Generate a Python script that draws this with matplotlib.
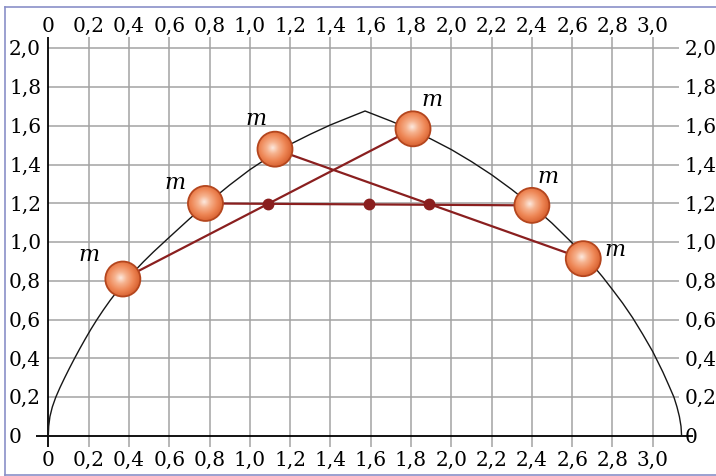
import numpy as np
import matplotlib
matplotlib.use("Agg")
import matplotlib.pyplot as plt
from matplotlib.patches import Ellipse
from matplotlib.lines import Line2D
from matplotlib.colors import LinearSegmentedColormap

# ---- data -------------------------------------------------------------
x_ticks = [0, 0.2, 0.4, 0.6, 0.8, 1.0, 1.2, 1.4, 1.6, 1.8, 2.0, 2.2, 2.4, 2.6, 2.8, 3.0]
x_tick_labels = ["0", "0,2", "0,4", "0,6", "0,8", "1,0", "1,2", "1,4", "1,6", "1,8",
                 "2,0", "2,2", "2,4", "2,6", "2,8", "3,0"]
y_ticks = [0, 0.2, 0.4, 0.6, 0.8, 1.0, 1.2, 1.4, 1.6, 1.8, 2.0]
y_tick_labels = ["0", "0,2", "0,4", "0,6", "0,8", "1,0", "1,2", "1,4", "1,6", "1,8", "2,0"]

# boundary curve of the region the masses move in (rising branch, peak, falling branch)
curve_x = [0.0, 0.002, 0.008, 0.02, 0.037, 0.058, 0.081, 0.105, 0.13, 0.156,
           0.183, 0.211, 0.241, 0.273, 0.307, 0.344, 0.384, 0.427, 0.473, 0.522,
           0.574, 0.6, 0.7, 0.8, 0.9, 1.0, 1.1, 1.2, 1.3, 1.4, 1.5,
           1.572,
           1.7, 1.8, 1.9, 2.0, 2.1, 2.2, 2.3, 2.4, 2.5, 2.6, 2.7, 2.75, 2.8, 2.85,
           2.9, 2.95, 3.0, 3.05, 3.08, 3.105, 3.12, 3.132, 3.14, 3.143]
curve_y = [0.0, 0.05, 0.1, 0.15, 0.2, 0.25, 0.3, 0.35, 0.4, 0.45,
           0.5, 0.55, 0.6, 0.65, 0.7, 0.75, 0.8, 0.85, 0.9, 0.95,
           1.0, 1.025, 1.12, 1.21, 1.295, 1.374, 1.443, 1.505, 1.557, 1.605, 1.647,
           1.677,
           1.625, 1.582, 1.532, 1.478, 1.416, 1.348, 1.272, 1.19, 1.098, 0.996, 0.884, 0.822, 0.755, 0.686,
           0.61, 0.525, 0.435, 0.33, 0.26, 0.2, 0.15, 0.1, 0.05, 0.0]

# positions of the six equal masses m
mass_x = [0.37, 0.78, 1.125, 1.81, 2.40, 2.655]
mass_y = [0.81, 1.20, 1.48, 1.585, 1.19, 0.915]
# pairs of masses joined by a rod (indices into the mass arrays)
pairs = [(0, 3), (1, 4), (2, 5)]
mass_label = "m"

# ---- figure / pixel-aligned data frame ---------------------------------
W, H = 716, 476
fig = plt.figure(figsize=(W / 100, H / 100), dpi=100)
ax = fig.add_axes([0, 0, 1, 1])
ax.axis("off")

x0px, xs = 48.3, 201.5      # pixel column of x=0, pixels per unit
y0px, ys = 436.0, 193.8     # pixel row of y=0, pixels per unit
xlim = (-x0px / xs, (W - x0px) / xs)
ylim = ((y0px - H) / ys, y0px / ys)

serif = "DejaVu Serif"
grid_col = "#a3a3a3"
rod_col = "#8a1f1f"

# grid with short overhangs serving as ticks
y_bot = -11 / ys
y_top = (y0px - 37) / ys
x_right = (679 - x0px) / xs
for x in x_ticks[1:]:
    ax.plot([x, x], [y_bot, y_top], color=grid_col, lw=1.1, zorder=1,
            solid_capstyle="butt")
for y in y_ticks[1:]:
    ax.plot([0, x_right], [y, y], color=grid_col, lw=1.1, zorder=1,
            solid_capstyle="butt")

# axes lines
ax.plot([(36 - x0px) / xs, (692.7 - x0px) / xs], [0, 0], color="black", lw=1.3,
        zorder=2, solid_capstyle="butt")
ax.plot([0, 0], [y_bot, y_top], color="black", lw=1.3, zorder=2,
        solid_capstyle="butt")

# tick labels on all four sides
fs = 14.5
for x, lab in zip(x_ticks, x_tick_labels):
    ax.text(x, (y0px - 31.7) / ys, lab, ha="center", va="baseline",
            fontsize=fs, family=serif, zorder=2)
    ax.text(x, (y0px - 466) / ys, lab, ha="center", va="baseline",
            fontsize=fs, family=serif, zorder=2)
for y, lab in zip(y_ticks, y_tick_labels):
    ax.text((9 - x0px) / xs, y - 7.0 / ys, lab, ha="left", va="baseline",
            fontsize=fs, family=serif, zorder=2)
    ax.text((684.5 - x0px) / xs, y - 7.0 / ys, lab, ha="left", va="baseline",
            fontsize=fs, family=serif, zorder=2)

# boundary curve
ax.plot(curve_x, curve_y, color="#161616", lw=1.0, zorder=3,
        solid_joinstyle="round")

# rods and their midpoints (centres of mass of each pair)
for i, j in pairs:
    ax.plot([mass_x[i], mass_x[j]], [mass_y[i], mass_y[j]], color=rod_col,
            lw=1.6, zorder=4, solid_capstyle="butt")
    ax.plot((mass_x[i] + mass_x[j]) / 2, (mass_y[i] + mass_y[j]) / 2, "o",
            ms=7.5, color=rod_col, mec=rod_col, zorder=5)

# shaded spheres for the masses
R = 17.5
rx, ry = R / xs, R / ys
ball_cmap = LinearSegmentedColormap.from_list(
    "ball", [(0.0, "#fce9df"), (0.3, "#f6b28e"), (0.65, "#ee8655"),
             (1.0, "#d65f2e")])
n = 121
u = np.linspace(-1, 1, n)
U, V = np.meshgrid(u, u)
hx, hy = -0.1, 0.1
dist = np.hypot(U - hx, V - hy) / (1 + np.hypot(hx, hy))
shade = ball_cmap(np.clip(dist, 0, 1))

for cx, cy in zip(mass_x, mass_y):
    clip = Ellipse((cx, cy), 2 * rx, 2 * ry, transform=ax.transData,
                   fc="none", ec="none")
    ax.add_patch(clip)
    im = ax.imshow(shade, extent=[cx - rx, cx + rx, cy - ry, cy + ry],
                   origin="lower", interpolation="bilinear", aspect="auto",
                   zorder=6)
    im.set_clip_path(clip)
    ax.add_patch(Ellipse((cx, cy), 2 * rx, 2 * ry, fc="none", ec="#b4461e",
                         lw=1.3, zorder=7))

# "m" labels next to each mass (offsets in pixels)
label_offsets = [(-34, 24), (-30, 20), (-19, 30.5), (18.5, 29.3), (16, 28), (32, 8.3)]
for (cx, cy), (dx, dy) in zip(zip(mass_x, mass_y), label_offsets):
    ax.annotate(mass_label, xy=(cx, cy), xytext=(dx * 0.72, (dy - 6) * 0.72),
                textcoords="offset points", ha="center", va="baseline",
                fontsize=16, fontstyle="italic", family=serif, zorder=8)

ax.set_xlim(*xlim)
ax.set_ylim(*ylim)

# thin frame around the drawing
fc = "#8a90c8"
def fx(p):
    return p / W
def fy(p):
    return 1 - p / H
for xs_, ys_ in [([5, 5], [6.5, 474.5]), ([5, W], [6.5, 6.5]), ([5, W], [474.5, 474.5])]:
    fig.add_artist(Line2D([fx(v) for v in xs_], [fy(v) for v in ys_],
                          transform=fig.transFigure, color=fc, lw=1.2))

fig.savefig("out.png", dpi=100, facecolor="white")
